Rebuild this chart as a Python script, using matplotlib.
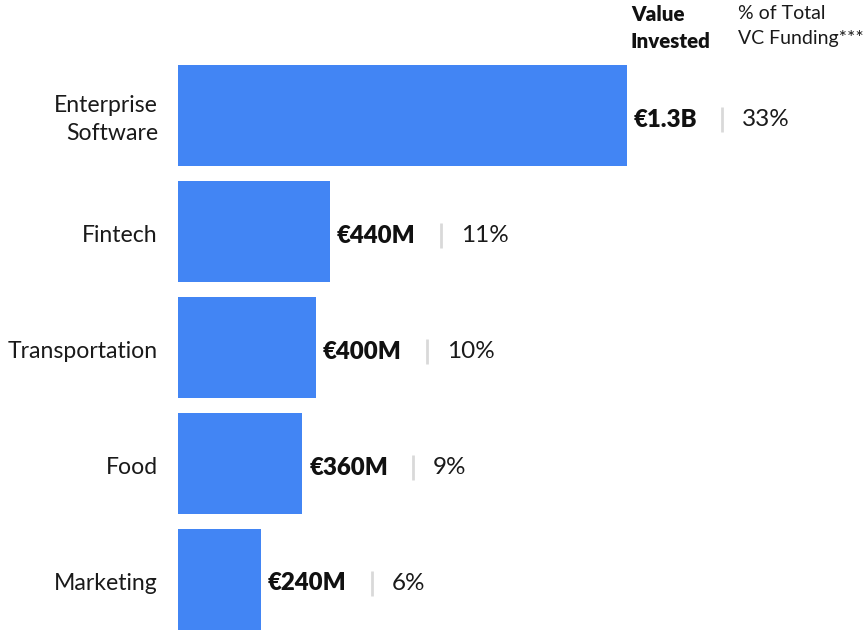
import matplotlib.pyplot as plt

plt.rcParams['font.family'] = ['Lato', 'DejaVu Sans']

# sectors and VC money raised (millions of euro)
sectors = ['Enterprise\nSoftware', 'Fintech', 'Transportation', 'Food', 'Marketing']
invested = [1300, 440, 400, 360, 240]
value_labels = ['€1.3B', '€440M', '€400M', '€360M', '€240M']
share_labels = ['33%', '11%', '10%', '9%', '6%']

bar_color = '#4285F4'
sep_color = '#d9d9d9'

fig = plt.figure(figsize=(8.65, 6.31), dpi=100)
ax = fig.add_axes([178 / 865, 0, 1 - 178 / 865, 1])
ypos = list(range(len(sectors)))
ax.barh(ypos, invested, height=0.87, color=bar_color)
ax.set_xlim(0, 1990)
ax.set_ylim(4.444, -0.996)
ax.axis('off')

# category names to the left of the bars
for y, name in zip(ypos, sectors):
    ax.annotate(name, xy=(0, y), xytext=(-20, -4), textcoords='offset pixels',
                ha='right', va='center', fontsize=16.6, color='#1a1a1a',
                linespacing=1.45)

fig.canvas.draw()
renderer = fig.canvas.get_renderer()
inv = ax.transData.inverted()

for y, v, vl, sl in zip(ypos, invested, value_labels, share_labels):
    t = ax.annotate(vl, xy=(v, y), xytext=(7, -4), textcoords='offset pixels',
                    ha='left', va='center', fontsize=17.3, fontweight='heavy',
                    color='#111111')
    bb = t.get_window_extent(renderer)
    sx = bb.x1 + 25
    x_data = inv.transform((sx, 0))[0]
    ax.plot([x_data, x_data], [y - 0.07, y + 0.14], color=sep_color,
            lw=2, solid_capstyle='butt')
    ax.annotate(sl, xy=(x_data, y), xytext=(20, -4), textcoords='offset pixels',
                ha='left', va='center', fontsize=17.5, color='#1a1a1a')

# column headers
fig.text(631 / 865, 1 - 5 / 631, 'Value\nInvested', ha='left', va='top',
         fontsize=14.8, fontweight='heavy', color='#111111', linespacing=1.5)
fig.text(738 / 865, 1 - 5 / 631, '% of Total\nVC Funding***', ha='left',
         va='top', fontsize=14, color='#1a1a1a', linespacing=1.55)

fig.savefig('out.png', dpi=100)
